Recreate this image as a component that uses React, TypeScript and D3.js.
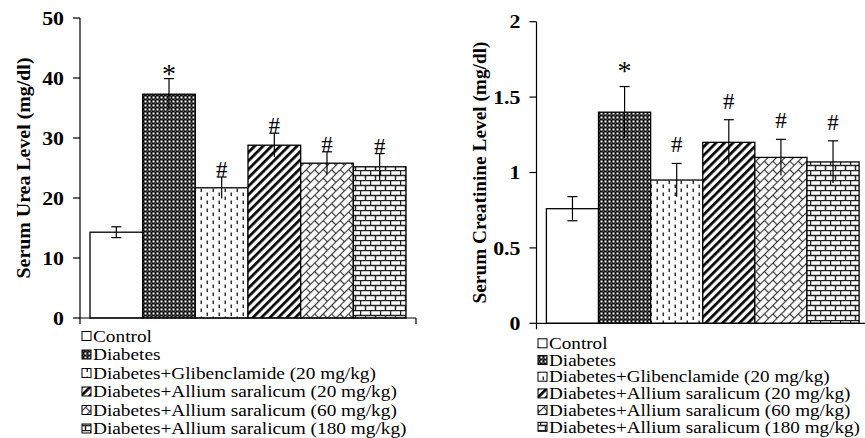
import * as d3 from "d3";

const groups = [
  "Control",
  "Diabetes",
  "Diabetes+Glibenclamide (20 mg/kg)",
  "Diabetes+Allium saralicum (20 mg/kg)",
  "Diabetes+Allium saralicum (60 mg/kg)",
  "Diabetes+Allium saralicum (180 mg/kg)",
];
const fills = ["#fff", "url(#pDiab)", "url(#pGlib)", "url(#pAs20)", "url(#pAs60)", "url(#pAs180)"];
const marks = ["", "*", "#", "#", "#", "#"];

const ureaMeans = [14.3, 37.3, 21.7, 28.8, 25.8, 25.2];
const ureaErrors = [0.9, 2.6, 1.8, 2.0, 1.9, 2.2];
const ureaTicks = [0, 10, 20, 30, 40, 50];

const creatMeans = [0.76, 1.4, 0.95, 1.2, 1.1, 1.07];
const creatErrors = [0.08, 0.17, 0.11, 0.15, 0.12, 0.14];
const creatTicks = [0, 0.5, 1, 1.5, 2];

const FONT = "'Liberation Serif', 'Times New Roman', serif";

interface PanelProps {
  means: number[];
  errors: number[];
  ticks: number[];
  maxY: number;
  title: string;
  titleLen: number;
  titleX: number;
  axisX: number;
  axisEnd: number;
  y0: number;
  yTop: number;
  markOffset: number;
  legendX: number;
  legendY: number;
  legendStep: number;
  legendScale: number;
}

function Panel(p: PanelProps) {
  const y = d3.scaleLinear().domain([0, p.maxY]).range([p.y0, p.yTop]);
  const x = d3.scaleBand<string>().domain(groups).range([p.axisX, p.axisEnd]).paddingInner(0).paddingOuter(0.19);
  const bw = x.bandwidth();
  const midY = (p.y0 + p.yTop) / 2;

  return (
    <g fontFamily={FONT}>
      {/* bars */}
      {groups.map((g, i) => (
        <rect key={g} x={x(g)} y={y(p.means[i])} width={bw} height={p.y0 - y(p.means[i])}
          fill={fills[i]} stroke="#000" strokeWidth={1.3} />
      ))}
      {/* error bars */}
      {groups.map((g, i) => {
        const cx = (x(g) as number) + bw / 2;
        const top = y(p.means[i] + p.errors[i]);
        const bot = y(p.means[i] - p.errors[i]);
        return (
          <g key={g} stroke="#000" strokeWidth={1.2}>
            <line x1={cx} x2={cx} y1={top} y2={bot} />
            <line x1={cx - 5} x2={cx + 5} y1={top} y2={top} />
            {i === 0 && <line x1={cx - 5} x2={cx + 5} y1={bot} y2={bot} />}
          </g>
        );
      })}
      {/* significance marks */}
      {groups.map((g, i) => (
        <text key={g} x={(x(g) as number) + bw / 2}
          y={y(p.means[i] + p.errors[i]) - p.markOffset + (marks[i] === "*" ? 4 : 0)}
          textAnchor="middle" fontSize={marks[i] === "*" ? 28 : 23}>{marks[i]}</text>
      ))}
      {/* y axis */}
      <line x1={p.axisX} x2={p.axisX} y1={p.yTop} y2={p.y0} stroke="#000" strokeWidth={1.2} />
      {p.ticks.map(t => (
        <g key={t}>
          <line x1={p.axisX - 7} x2={p.axisX} y1={y(t)} y2={y(t)} stroke="#000" strokeWidth={1.2} />
          <g transform={`translate(${p.axisX - 16},${y(t)}) scale(1.15,1)`}>
            <text textAnchor="end" dy="0.35em" fontSize={19} fontWeight="bold">{String(t)}</text>
          </g>
        </g>
      ))}
      {/* x axis */}
      <line x1={p.axisX} x2={p.axisEnd} y1={p.y0} y2={p.y0} stroke="#000" strokeWidth={1.2} />
      <line x1={p.axisX} x2={p.axisX} y1={p.y0} y2={p.y0 + 6} stroke="#000" strokeWidth={1.2} />
      <line x1={p.axisEnd} x2={p.axisEnd} y1={p.y0} y2={p.y0 + 6} stroke="#000" strokeWidth={1.2} />
      {/* y title */}
      <text transform={`translate(${p.titleX},${midY}) rotate(-90)`} textAnchor="middle" dy="0.35em"
        fontSize={19} fontWeight="bold" textLength={p.titleLen} lengthAdjust="spacingAndGlyphs">{p.title}</text>
      {/* legend */}
      {groups.map((g, i) => {
        const ly = p.legendY + i * p.legendStep;
        return (
          <g key={g}>
            <rect x={p.legendX} y={ly - 4.5} width={9} height={9} fill={fills[i]} stroke="#000" strokeWidth={1} />
            <g transform={`translate(${p.legendX + 11},${ly}) scale(${p.legendScale},1)`}>
              <text dy="0.35em" fontSize={16.5}>{g}</text>
            </g>
          </g>
        );
      })}
    </g>
  );
}

export default function App() {
  return (
    <svg width={865} height={438} style={{ position: "absolute", left: 0, top: 0, background: "#fff" }}>
      <defs>
        <pattern id="pDiab" width={4} height={4} patternUnits="userSpaceOnUse">
          <rect width={4} height={4} fill="#0a0a0a" />
          <rect x={0.5} y={0.5} width={2} height={2} fill="#fff" />
          <rect x={2.5} y={2.5} width={1.5} height={1.5} fill="#555" />
        </pattern>
        <pattern id="pGlib" width={12} height={8} patternUnits="userSpaceOnUse">
          <rect width={12} height={8} fill="#fff" />
          <rect x={2.5} y={0.5} width={1.5} height={3.5} fill="#333" />
          <rect x={8.5} y={4.5} width={1.5} height={3.5} fill="#333" />
        </pattern>
        <pattern id="pAs20" width={6} height={6} patternUnits="userSpaceOnUse" patternTransform="rotate(45)">
          <rect width={6} height={6} fill="#fff" />
          <rect x={0} y={0} width={2.7} height={6} fill="#000" />
        </pattern>
        <pattern id="pAs60" width={12} height={12} patternUnits="userSpaceOnUse" patternTransform="rotate(-45)">
          <rect width={12} height={12} fill="#fff" />
          <g stroke="#333" strokeWidth={1.2}>
            <line x1={0} x2={12} y1={0.5} y2={0.5} />
            <line x1={0} x2={12} y1={6.5} y2={6.5} />
            <line x1={0.5} x2={0.5} y1={0} y2={6.5} />
            <line x1={6.5} x2={6.5} y1={6.5} y2={12} />
          </g>
        </pattern>
        <pattern id="pAs180" width={10} height={10} patternUnits="userSpaceOnUse">
          <rect width={10} height={10} fill="#fff" />
          <g stroke="#222" strokeWidth={1.5}>
            <line x1={0} x2={10} y1={0.5} y2={0.5} />
            <line x1={0} x2={10} y1={5.5} y2={5.5} />
            <line x1={0.5} x2={0.5} y1={0} y2={5.5} />
            <line x1={5.5} x2={5.5} y1={5.5} y2={10} />
          </g>
        </pattern>
      </defs>
      <Panel means={ureaMeans} errors={ureaErrors} ticks={ureaTicks} maxY={50}
        title="Serum Urea Level (mg/dl)" titleLen={221} titleX={23}
        axisX={80} axisEnd={416} y0={318} yTop={18} markOffset={0}
        legendX={82} legendY={336} legendStep={18.5} legendScale={1.17} />
      <Panel means={creatMeans} errors={creatErrors} ticks={creatTicks} maxY={2}
        title="Serum Creatinine Level (mg/dl)" titleLen={262} titleX={479}
        axisX={536.5} axisEnd={869} y0={323.3} yTop={21.7} markOffset={11}
        legendX={538} legendY={343.3} legendStep={16.7} legendScale={1.16} />
    </svg>
  );
}
